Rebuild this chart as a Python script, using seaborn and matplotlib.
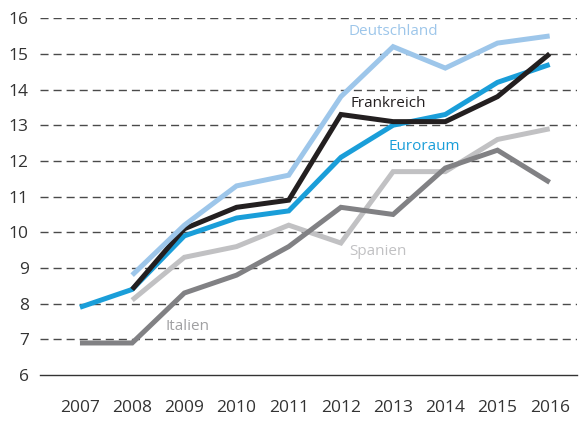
import pandas as pd
import matplotlib.pyplot as plt
import seaborn as sns

sns.set_style("white")
plt.rcParams['font.family'] = ['Open Sans', 'DejaVu Sans']

years = [2007, 2008, 2009, 2010, 2011, 2012, 2013, 2014, 2015, 2016]
deutschland = [None, 8.8, 10.2, 11.3, 11.6, 13.8, 15.2, 14.6, 15.3, 15.5]
frankreich = [None, 8.4, 10.1, 10.7, 10.9, 13.3, 13.1, 13.1, 13.8, 15.0]
euroraum = [7.9, 8.4, 9.9, 10.4, 10.6, 12.1, 13.0, 13.3, 14.2, 14.7]
spanien = [None, 8.1, 9.3, 9.6, 10.2, 9.7, 11.7, 11.7, 12.6, 12.9]
italien = [6.9, 6.9, 8.3, 8.8, 9.6, 10.7, 10.5, 11.8, 12.3, 11.4]

series = {
    'Spanien': spanien,
    'Italien': italien,
    'Euroraum': euroraum,
    'Frankreich': frankreich,
    'Deutschland': deutschland,
}
colors = {
    'Deutschland': '#9dc6ea',
    'Frankreich': '#231f20',
    'Euroraum': '#1a9ed9',
    'Spanien': '#c1c1c3',
    'Italien': '#818184',
}

rows = []
for name, vals in series.items():
    for y, v in zip(years, vals):
        if v is not None:
            rows.append({'Jahr': y, 'Wert': v, 'Land': name})
df = pd.DataFrame(rows)

fig = plt.figure(figsize=(5.85, 4.21), dpi=100)
ax = fig.add_axes([0.068, 0.109, 0.918, 0.848])

for name in series:
    sub = df[df['Land'] == name]
    sns.lineplot(data=sub, x='Jahr', y='Wert', color=colors[name], lw=3.6,
                 ax=ax, legend=False, solid_joinstyle='miter', solid_capstyle='butt')

ax.set_xlim(2006.23, 2016.52)
ax.set_ylim(6, 16)
ax.set_yticks(range(6, 17))
ax.set_xticks(years)
ax.set_xlabel('')
ax.set_ylabel('')

for y in range(7, 17):
    ax.axhline(y, color='#4a4a4a', lw=1.0, dashes=(5.8, 3.6), zorder=0)

for s in ['top', 'right', 'left']:
    ax.spines[s].set_visible(False)
ax.spines['bottom'].set_color('#333333')
ax.spines['bottom'].set_linewidth(1.0)

ax.tick_params(axis='x', direction='out', length=12, width=1.0, color='#333333',
               labelsize=12.5, pad=6, labelcolor='#333333')
ax.tick_params(axis='y', length=0, labelsize=12.5, pad=8, labelcolor='#333333')

ax.text(2013.0, 15.62, 'Deutschland', color=colors['Deutschland'], fontsize=11, ha='center', va='center')
ax.text(2012.9, 13.62, 'Frankreich', color=colors['Frankreich'], fontsize=11, ha='center', va='center')
ax.text(2013.6, 12.39, 'Euroraum', color=colors['Euroraum'], fontsize=11, ha='center', va='center')
ax.text(2012.7, 9.45, 'Spanien', color=colors['Spanien'], fontsize=11, ha='center', va='center')
ax.text(2009.07, 7.35, 'Italien', color='#a0a0a2', fontsize=11, ha='center', va='center')

fig.savefig('out.png', dpi=100)
